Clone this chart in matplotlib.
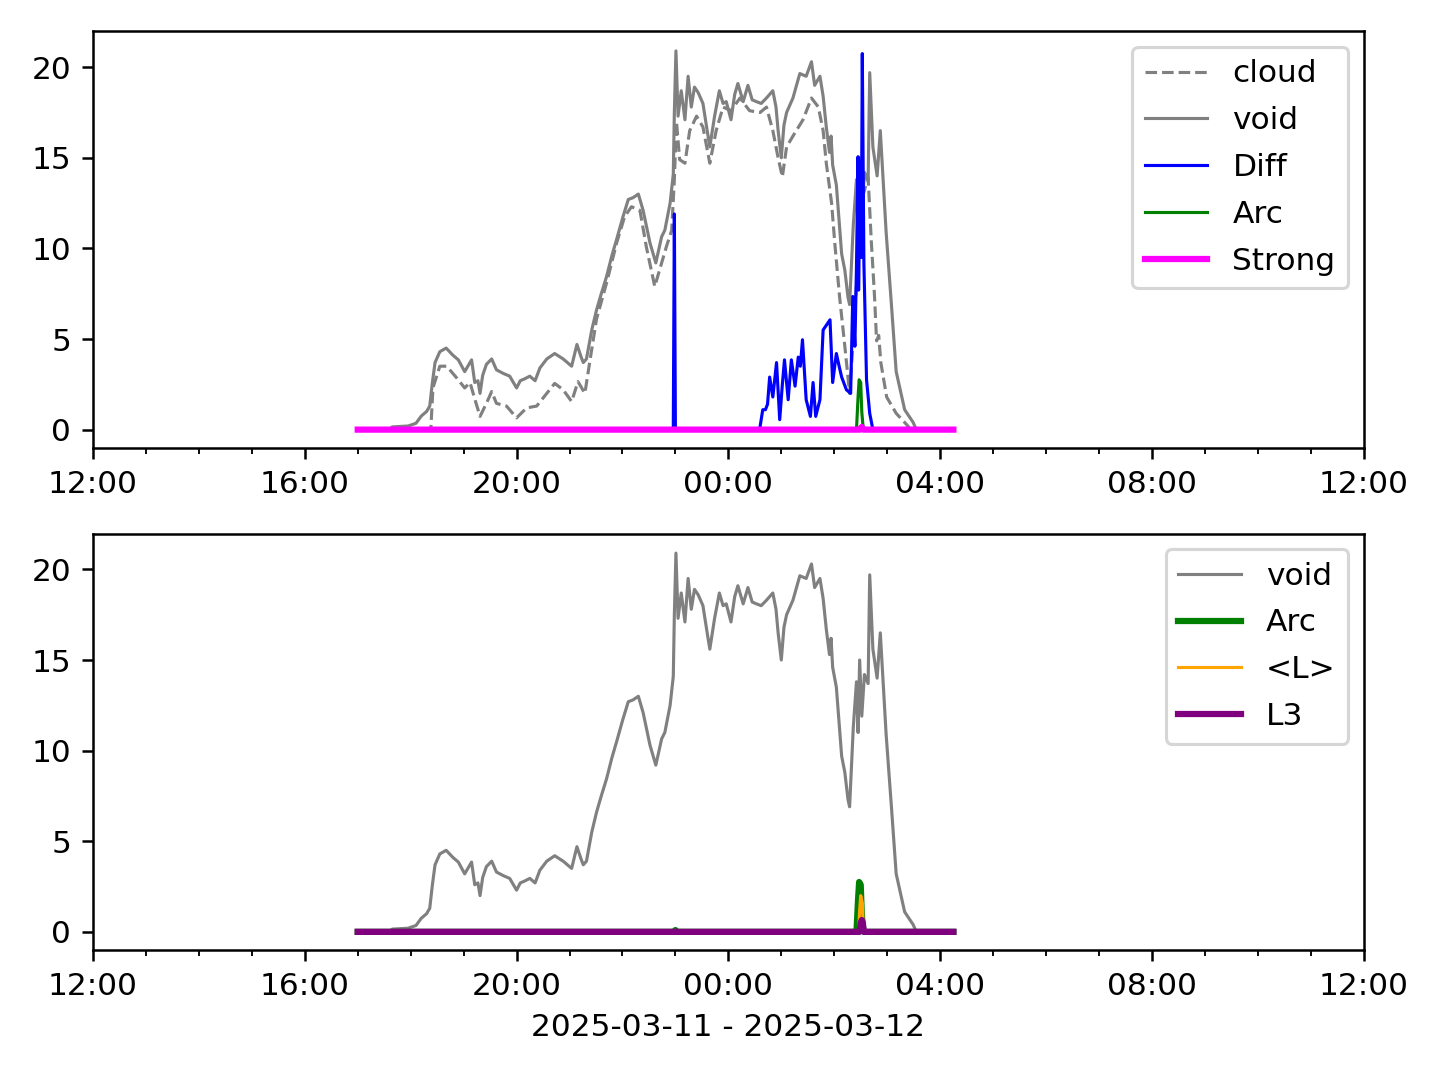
import pandas as pd
import matplotlib
matplotlib.use("Agg")
import matplotlib.pyplot as plt
import matplotlib.dates as mdates

# times are hours since 2025-03-11 00:00
void_t = [17.00, 17.60, 17.65, 17.95, 18.10, 18.20, 18.30, 18.36, 18.41, 18.46,
          18.55, 18.67, 18.80, 18.90, 19.02, 19.15, 19.21, 19.27, 19.31, 19.36,
          19.43, 19.53, 19.62, 19.75, 19.87, 20.00, 20.07, 20.15, 20.25, 20.35,
          20.44, 20.57, 20.72, 20.88, 21.04, 21.14, 21.22, 21.26, 21.32, 21.42,
          21.51, 21.60, 21.70, 21.80, 21.89, 22.01, 22.11, 22.20, 22.30, 22.39,
          22.52, 22.63, 22.74, 22.80, 22.90, 22.96, 22.98, 23.01, 23.05, 23.11,
          23.18, 23.24, 23.30, 23.36, 23.43, 23.52, 23.60, 23.65, 23.74, 23.83,
          23.90, 23.96, 24.05, 24.12, 24.18, 24.28, 24.37, 24.45, 24.53, 24.62,
          24.72, 24.84, 24.90, 24.94, 25.00, 25.05, 25.10, 25.22, 25.35, 25.47,
          25.57, 25.63, 25.73, 25.79, 25.85, 25.91, 25.94, 25.97, 26.04, 26.14,
          26.20, 26.26, 26.29, 26.36, 26.42, 26.45, 26.48, 26.52, 26.57, 26.64,
          26.67, 26.73, 26.81, 26.87, 26.98, 27.08, 27.17, 27.33, 27.49, 27.55,
          28.25]
void_v = [0.0, 0.0, 0.15, 0.2, 0.35, 0.75, 1.0, 1.3, 2.6, 3.7,
          4.3, 4.5, 4.1, 3.85, 3.2, 3.85, 2.6, 2.7, 2.0, 3.0,
          3.6, 3.9, 3.3, 3.1, 2.95, 2.3, 2.7, 2.8, 2.95, 2.7,
          3.4, 3.9, 4.2, 3.9, 3.5, 4.7, 4.0, 3.7, 3.9, 5.5,
          6.6, 7.5, 8.45, 9.6, 10.5, 11.75, 12.7, 12.8, 13.0, 12.1,
          10.3, 9.2, 10.65, 11.0, 12.5, 14.1, 17.5, 20.9, 17.3, 18.7,
          17.1, 19.5, 17.8, 18.9, 18.6, 18.0, 16.5, 15.6, 17.3, 18.7,
          18.0, 18.1, 17.1, 18.5, 19.1, 18.1, 19.0, 18.2, 18.1, 18.0,
          18.3, 18.7, 17.8, 16.5, 15.0, 16.8, 17.5, 18.3, 19.65, 19.5,
          20.3, 19.0, 19.5, 18.4, 16.7, 15.3, 16.2, 14.6, 13.5, 9.7,
          8.8, 7.3, 6.9, 11.3, 13.8, 11.0, 15.0, 11.9, 14.2, 13.7,
          19.7, 15.6, 14.0, 16.5, 10.9, 6.9, 3.2, 1.1, 0.4, 0.0,
          0.0]

cloud_t = [17.00, 18.38, 18.42, 18.55, 18.68, 18.87, 19.02, 19.12, 19.21, 19.31,
           19.43, 19.53, 19.62, 19.81, 20.00, 20.19, 20.38, 20.57, 20.72, 20.88,
           21.04, 21.16, 21.29, 21.38, 21.51, 21.70, 21.89, 22.04, 22.17, 22.33,
           22.45, 22.61, 22.70, 22.83, 22.93, 22.98, 23.02, 23.08, 23.18, 23.27,
           23.40, 23.52, 23.65, 23.77, 23.90, 24.05, 24.22, 24.40, 24.60, 24.72,
           24.84, 24.94, 25.02, 25.10, 25.22, 25.41, 25.57, 25.70, 25.79, 25.85,
           25.95, 26.01, 26.10, 26.20, 26.29, 26.36, 26.45, 26.55, 26.64, 26.70,
           26.76, 26.80, 26.84, 26.88, 26.99, 27.17, 27.36, 27.45, 28.25]
cloud_v = [0.0, 0.0, 2.3, 3.5, 3.5, 2.85, 2.3, 2.6, 1.7, 0.73,
           1.45, 2.1, 1.45, 1.3, 0.65, 1.2, 1.3, 2.0, 2.55, 2.2,
           1.55, 2.65, 2.0, 3.7, 6.1, 8.1, 10.3, 11.75, 12.3, 12.1,
           10.1, 7.9, 8.8, 10.1, 11.0, 13.8, 17.0, 14.9, 14.7, 16.5,
           17.3, 16.7, 14.7, 16.5, 17.8, 17.6, 18.3, 17.6, 17.5, 17.8,
           16.5, 15.0, 13.95, 15.6, 16.2, 17.1, 18.3, 17.8, 16.5, 14.7,
           12.5, 10.3, 7.35, 4.6, 2.0, 5.0, 9.5, 13.0, 13.9, 10.4,
           7.4, 4.9, 5.2, 3.7, 1.8, 0.9, 0.3, 0.0, 0.0]

diff_t = [17.00, 22.96, 22.98, 23.00, 24.59, 24.65, 24.70, 24.74, 24.78, 24.84,
          24.91, 24.97, 25.02, 25.06, 25.13, 25.19, 25.26, 25.32, 25.36, 25.40,
          25.47, 25.55, 25.60, 25.65, 25.73, 25.79, 25.86, 25.92, 25.97, 26.04,
          26.10, 26.14, 26.23, 26.31, 26.35, 26.39, 26.42, 26.45, 26.46, 26.49,
          26.51, 26.53, 26.56, 26.61, 26.67, 26.73, 28.25]
diff_v = [0.0, 0.0, 11.9, 0.0, 0.0, 1.1, 1.1, 1.4, 2.9, 1.8,
          3.7, 0.55, 2.5, 3.85, 1.65, 3.85, 2.4, 4.0, 3.5, 4.96,
          1.65, 0.73, 2.6, 0.73, 1.65, 5.5, 5.8, 6.06, 2.6, 4.2,
          3.4, 2.9, 2.2, 2.0, 7.35, 4.6, 9.0, 15.06, 7.7, 14.8,
          9.5, 20.75, 9.2, 2.75, 0.9, 0.0, 0.0]

arc_t = [17.00, 22.98, 23.00, 23.02, 26.42, 26.45, 26.47, 26.50, 26.52, 26.54, 26.56, 28.25]
arc_v = [0.0, 0.0, 0.1, 0.0, 0.0, 1.8, 2.75, 2.6, 1.0, 0.3, 0.0, 0.0]

strong_t = [17.00, 26.49, 26.52, 26.55, 28.25]
strong_v = [0.0, 0.0, 0.15, 0.0, 0.0]

meanl_t = [17.00, 26.46, 26.48, 26.50, 26.53, 26.55, 28.25]
meanl_v = [0.0, 0.0, 1.2, 2.0, 1.6, 0.0, 0.0]

l3_t = [17.00, 26.48, 26.50, 26.52, 26.54, 26.56, 28.25]
l3_v = [0.0, 0.0, 0.5, 0.65, 0.5, 0.0, 0.0]

day0 = pd.Timestamp("2025-03-11")


def to_time(hours):
    return day0 + pd.to_timedelta(hours, unit="h")


fig, (ax1, ax2) = plt.subplots(2, 1, figsize=(6.4, 4.8), dpi=225)
fig.subplots_adjust(left=0.0646, right=0.947, top=0.971, bottom=0.1204, hspace=0.206)

ax1.plot(to_time(cloud_t), cloud_v, color="gray", ls="--", lw=1, label="cloud")
ax1.plot(to_time(void_t), void_v, color="gray", lw=1, label="void")
ax1.plot(to_time(diff_t), diff_v, color="blue", lw=1, label="Diff")
ax1.plot(to_time(arc_t), arc_v, color="green", lw=1, label="Arc")
ax1.plot(to_time(strong_t), strong_v, color="magenta", lw=2, label="Strong")
ax1.legend(loc="upper right", labelspacing=0.57)

ax2.plot(to_time(void_t), void_v, color="gray", lw=1, label="void")
ax2.plot(to_time(arc_t), arc_v, color="green", lw=2, label="Arc")
ax2.plot(to_time(meanl_t), meanl_v, color="orange", lw=1, label="<L>")
ax2.plot(to_time(l3_t), l3_v, color="purple", lw=2, label="L3")
ax2.legend(loc="upper right", labelspacing=0.57)
ax2.set_xlabel("2025-03-11 - 2025-03-12")

for ax in (ax1, ax2):
    ax.set_xlim(pd.Timestamp("2025-03-11 12:00"), pd.Timestamp("2025-03-12 12:00"))
    ax.set_ylim(-1.0, 21.98)
    ax.xaxis.set_major_locator(mdates.HourLocator(byhour=range(0, 24, 4)))
    ax.xaxis.set_minor_locator(mdates.HourLocator())
    ax.xaxis.set_major_formatter(mdates.DateFormatter("%H:%M"))

plt.savefig("out.png", dpi=225)
